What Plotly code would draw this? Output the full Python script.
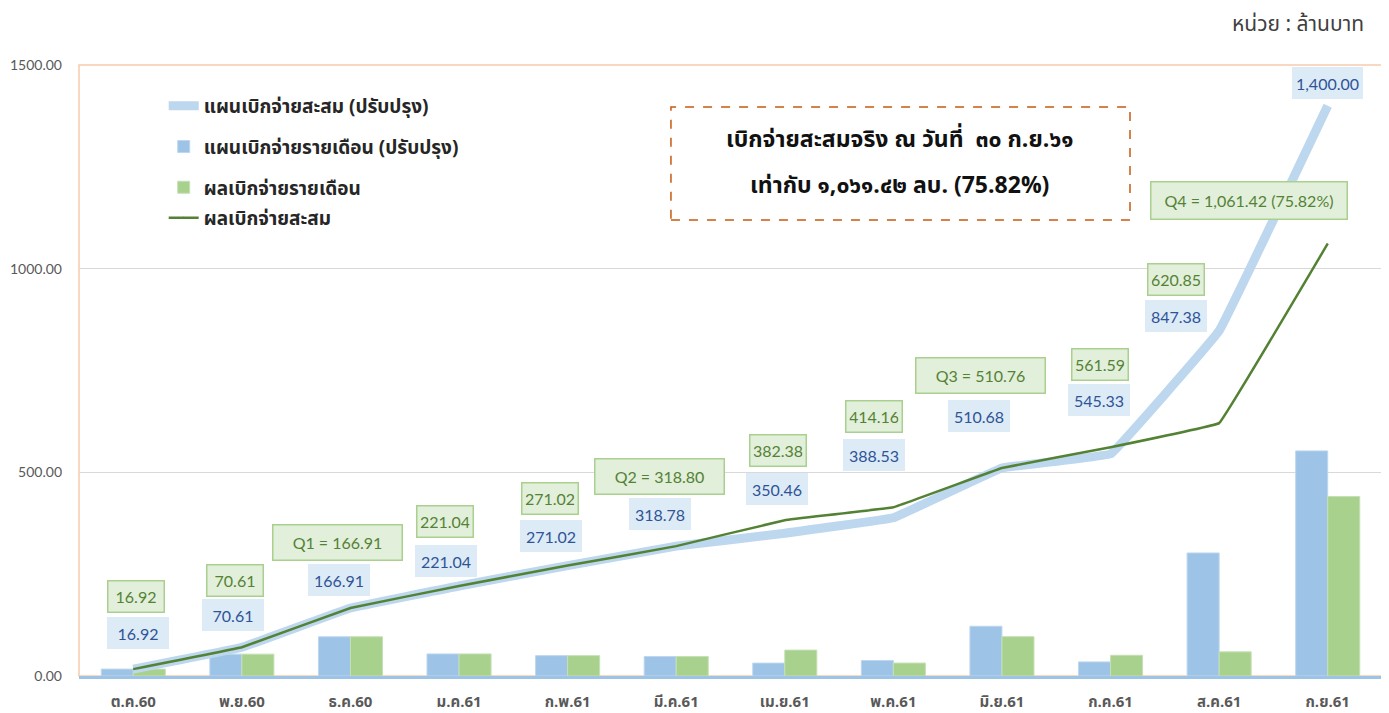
import plotly.graph_objects as go

# ---------------- data ----------------
months = ["ต.ค.60", "พ.ย.60", "ธ.ค.60", "ม.ค.61", "ก.พ.61", "มี.ค.61",
          "เม.ย.61", "พ.ค.61", "มิ.ย.61", "ก.ค.61", "ส.ค.61", "ก.ย.61"]
plan_cum = [16.92, 70.61, 166.91, 221.04, 271.02, 318.78,
            350.46, 388.53, 510.68, 545.33, 847.38, 1400.00]
plan_month = [16.92, 53.69, 96.30, 54.13, 49.98, 47.76,
              31.68, 38.07, 122.15, 34.65, 302.05, 552.62]
actual_month = [16.92, 53.69, 96.30, 54.13, 49.98, 47.78,
                63.58, 31.78, 96.60, 50.83, 59.26, 440.57]
actual_cum = [16.92, 70.61, 166.91, 221.04, 271.02, 318.80,
              382.38, 414.16, 510.76, 561.59, 620.85, 1061.42]
actual_labels = ["16.92", "70.61", "Q1 = 166.91", "221.04", "271.02", "Q2 = 318.80",
                 "382.38", "414.16", "Q3 = 510.76", "561.59", "620.85",
                 "Q4 = 1,061.42 (75.82%)"]
plan_labels = ["{:,.2f}".format(v) for v in plan_cum]
y_ticks = [0, 500, 1000, 1500]

series_names = ["แผนเบิกจ่ายสะสม (ปรับปรุง)", "แผนเบิกจ่ายรายเดือน (ปรับปรุง)",
                "ผลเบิกจ่ายรายเดือน", "ผลเบิกจ่ายสะสม"]
unit_text = "หน่วย : ล้านบาท"
box_lines = ["เบิกจ่ายสะสมจริง ณ วันที่  ๓๐ ก.ย.๖๑", "เท่ากับ ๑,๐๖๑.๔๒ ลบ. (75.82%)"]

# ---------------- label placement (pixel offsets) ----------------
g_dx = [3, -7, -13, -14, -18, -17, -7, -19, -21, -11, -43, -79]
g_dy = [73, 67, 66, 64, 67, 70, 70, 91, 92, 83, 144, 43]
b_dx = [5, -9, -11, -13, -17, -16, -8, -19, -23, -12, -43, 0]
b_dy = [36, 32, 28, 25, 30, 32, 44, 63, 52, 54, 15, 23]

THAI = "Tahoma, 'Noto Sans Thai', 'Noto Sans', sans-serif"
NUM = "Lato, Calibri, 'Open Sans', sans-serif"

fig = go.Figure()

fig.add_trace(go.Scatter(
    x=months, y=plan_cum, mode="lines", name=series_names[0],
    line=dict(color="#BDD7EE", width=9, shape="spline", smoothing=0.15),
    legendgroup="a", legendrank=1, hoverinfo="y"))
fig.add_trace(go.Bar(
    x=months, y=plan_month, name=series_names[1],
    marker=dict(color="#9DC3E6", line=dict(color="#BDD7EE", width=1)),
    legendgroup="b", legendrank=2))
fig.add_trace(go.Bar(
    x=months, y=actual_month, name=series_names[2],
    marker=dict(color="#A9D18E", line=dict(color="#C5E0B4", width=1)),
    legendgroup="c", legendrank=3))
fig.add_trace(go.Scatter(
    x=months, y=actual_cum, mode="lines+markers", name=series_names[3],
    line=dict(color="#548235", width=2.5, shape="spline", smoothing=0.1),
    marker=dict(size=1, color="#548235"),
    legendgroup="d", legendrank=4, legend="legend2"))

annotations = []
for i, m in enumerate(months):
    is_q = actual_labels[i].startswith("Q")
    if is_q:
        w = 189 if "%" in actual_labels[i] else 122
        h = 30 if "%" in actual_labels[i] else 28
    else:
        w, h = 49, 24
    annotations.append(dict(
        x=m, y=actual_cum[i], xref="x", yref="y", text=actual_labels[i],
        showarrow=False, xshift=g_dx[i], yshift=g_dy[i],
        font=dict(family=NUM, size=16, color="#548235"),
        bgcolor="#E2EFDA", bordercolor="#A9D08E", borderwidth=1.5,
        borderpad=3, width=w, height=h))
    bw = 63 if i == 11 else 54
    annotations.append(dict(
        x=m, y=plan_cum[i], xref="x", yref="y", text=plan_labels[i],
        showarrow=False, xshift=b_dx[i], yshift=b_dy[i],
        font=dict(family=NUM, size=16, color="#2F5496"),
        bgcolor="#DDEBF7", borderwidth=0, borderpad=4, width=bw, height=24))

annotations.append(dict(
    x=0.987, y=1.0655, xref="paper", yref="paper", xanchor="right", yanchor="middle",
    text=unit_text, showarrow=False, borderpad=0,
    font=dict(family=THAI, size=21, color="#404040")))
annotations.append(dict(
    x=0.630, y=0.877, xref="paper", yref="paper", xanchor="center", yanchor="middle",
    text="<b>" + box_lines[0] + "</b>", showarrow=False,
    font=dict(family=THAI, size=23, color="#111111")))
annotations.append(dict(
    x=0.630, y=0.802, xref="paper", yref="paper", xanchor="center", yanchor="middle",
    text="<b>" + box_lines[1] + "</b>", showarrow=False,
    font=dict(family=THAI, size=23, color="#111111")))

shapes = [
    dict(type="rect", xref="paper", yref="paper", x0=0, x1=1, y0=0, y1=1,
         line=dict(color="#F8CBAD", width=1.5), layer="below"),
    dict(type="rect", xref="paper", yref="paper", x0=0.4543, x1=0.8066,
         y0=0.7463, y1=0.9313,
         line=dict(color="#C55A11", width=1.5, dash="dash"), fillcolor="white"),
]

legend_font = dict(family=THAI, size=19, color="#262626", weight="bold")

# page body has an 8px margin, so the figure is sized/offset to compensate
fig.update_layout(
    width=1381, height=705,
    margin=dict(l=71, r=7, t=57, b=37, autoexpand=False),
    paper_bgcolor="white", plot_bgcolor="white",
    barmode="group", bargap=0.41, bargroupgap=0,
    showlegend=True,
    legend=dict(x=0.065, y=0.964, xanchor="left", yanchor="top",
                bgcolor="rgba(0,0,0,0)", traceorder="grouped", tracegroupgap=13,
                font=legend_font, itemwidth=30),
    legend2=dict(x=0.065, y=0.781, xanchor="left", yanchor="top",
                 bgcolor="rgba(0,0,0,0)", font=legend_font, itemwidth=30),
    annotations=annotations, shapes=shapes,
    xaxis=dict(type="category", categoryorder="array", categoryarray=months,
               range=[-0.5, 11.5], showgrid=False, showline=True,
               linecolor="#9DC3E6", linewidth=2.5, ticks="",
               ticklabelstandoff=10, automargin=False,
               tickfont=dict(family=THAI, size=15, color="#595959", weight="bold")),
    yaxis=dict(range=[0, 1500], tickvals=y_ticks, tickformat=".2f",
               showgrid=True, gridcolor="#D9D9D9", gridwidth=1,
               zeroline=False, showline=False, ticks="",
               ticklabelstandoff=16, automargin=False,
               tickfont=dict(family=NUM, size=14, color="#595959")),
)

fig.write_html("out.html")
